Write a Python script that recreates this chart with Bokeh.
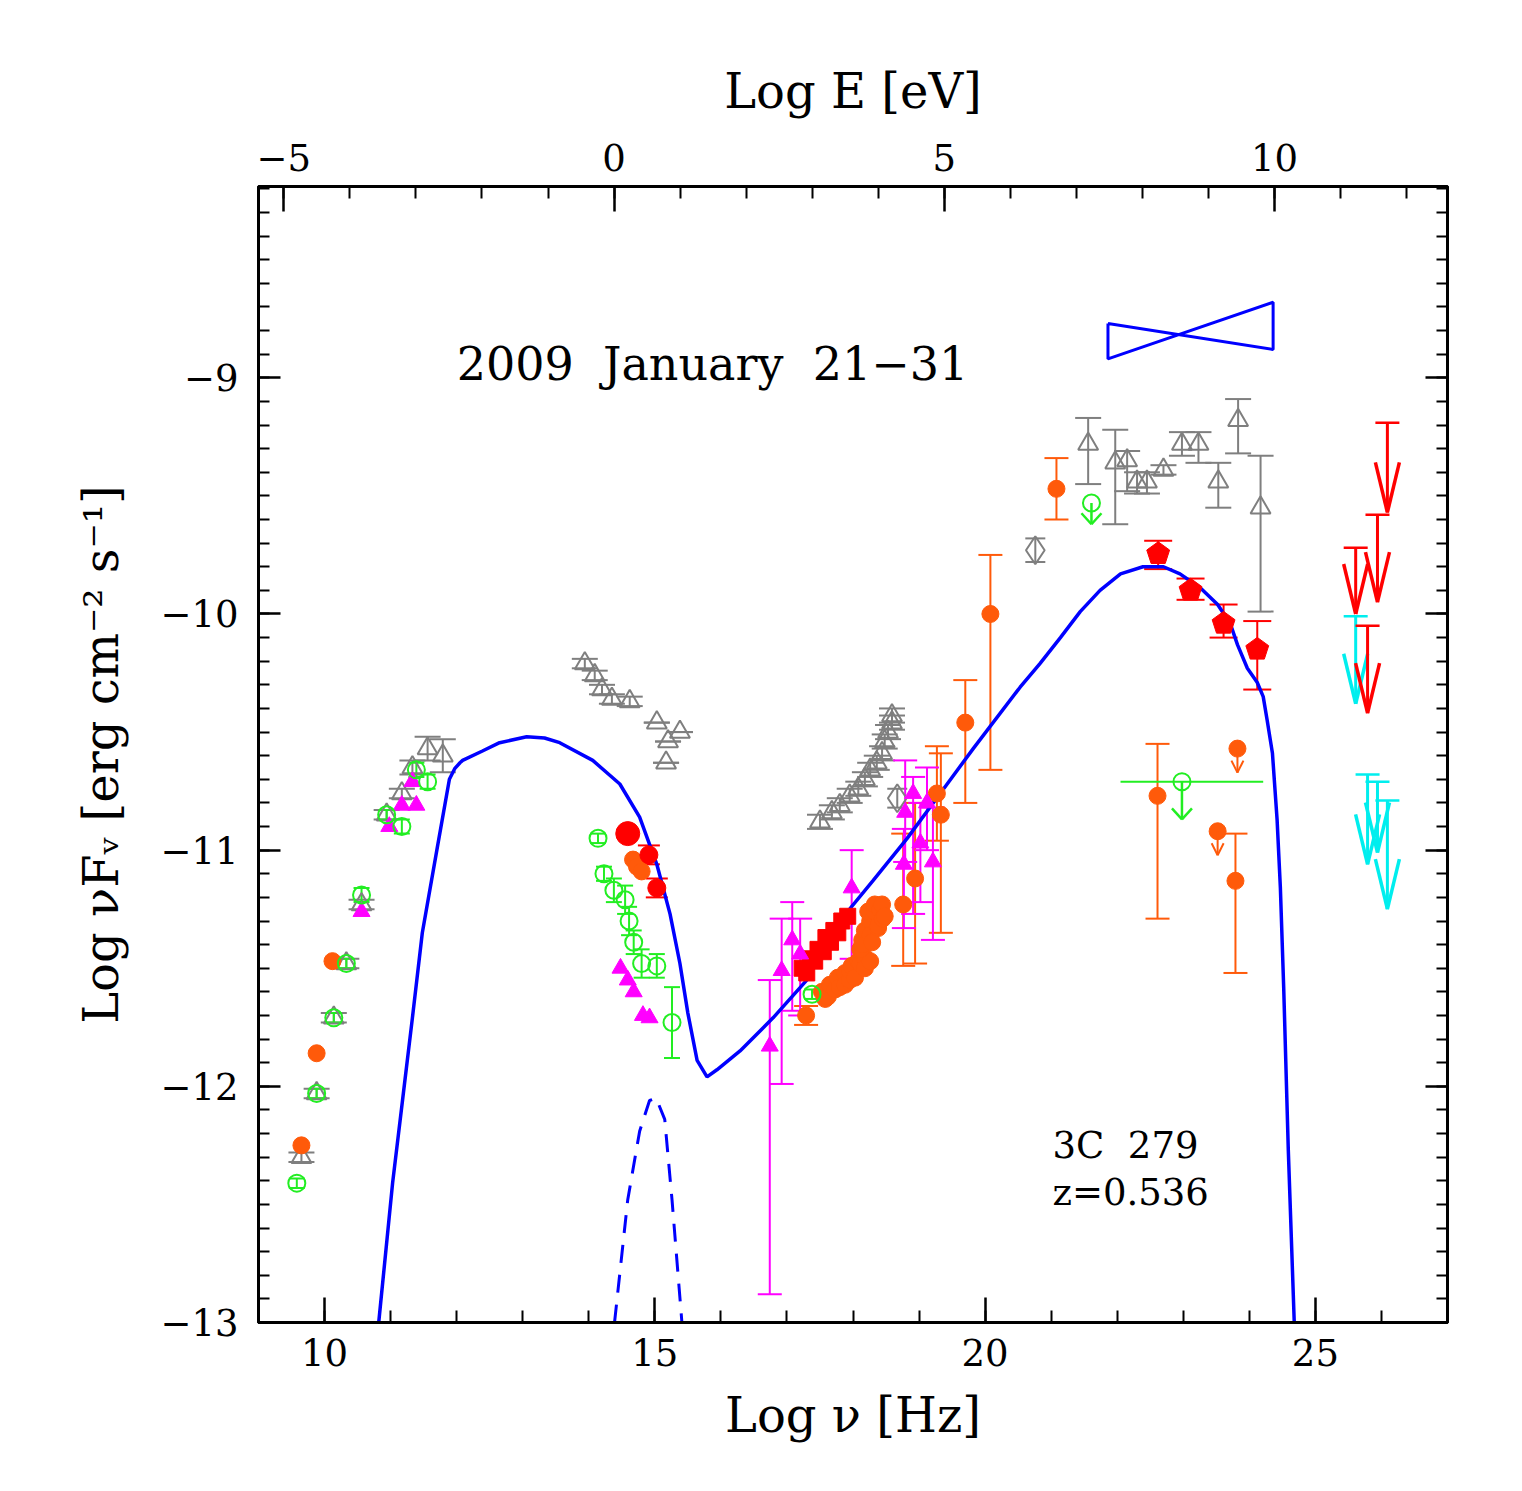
import numpy as np
from bokeh.plotting import figure
from bokeh.models import (Range1d, LinearAxis, FixedTicker, Whisker, TeeHead,
                          ColumnDataSource, Label)
from bokeh.embed import file_html
from bokeh.resources import INLINE

# ---------------- data (log nu [Hz], log nuFnu [erg cm^-2 s^-1]) ----------------
# archival, grey open triangles
arch_x = [9.65, 9.88, 10.14, 10.33, 10.56, 10.94, 11.17, 11.33, 11.56, 11.79,
          13.94, 14.09, 14.20, 14.35, 14.62, 15.03, 15.38, 15.20, 15.17,
          17.50, 17.68, 17.80, 17.95, 18.08, 18.18, 18.26, 18.36, 18.44, 18.48, 18.53, 18.59, 18.59,
          21.56, 21.97, 22.15, 22.30, 22.45, 22.70, 22.98, 23.23, 23.53, 23.83, 24.17]
arch_y = [-12.30, -12.03, -11.71, -11.48, -11.23, -10.85, -10.76, -10.65, -10.57, -10.60,
          -10.21, -10.26, -10.32, -10.36, -10.37, -10.46, -10.50, -10.54, -10.63,
          -10.88, -10.84, -10.81, -10.77, -10.74, -10.70, -10.66, -10.63, -10.59, -10.54, -10.50, -10.46, -10.43,
          -9.28, -9.36, -9.35, -9.44, -9.44, -9.39, -9.28, -9.28, -9.44, -9.18, -9.55]
arch_lo = [-12.32, -12.05, -11.73, -11.50, -11.25, -10.87, -10.78, -10.68, -10.62, -10.67,
           -10.23, -10.28, -10.34, -10.38, -10.39, -10.46, -10.50, -10.54, -10.63,
           -10.91, -10.87, -10.84, -10.80, -10.77, -10.73, -10.69, -10.66, -10.62, -10.57, -10.53, -10.49, -10.46,
           -9.45, -9.62, -9.48, -9.49, -9.49, -9.41, -9.33, -9.36, -9.55, -9.32, -9.99]
arch_hi = [-12.28, -12.01, -11.69, -11.46, -11.21, -10.83, -10.74, -10.62, -10.52, -10.53,
           -10.19, -10.24, -10.30, -10.34, -10.35, -10.46, -10.50, -10.54, -10.63,
           -10.85, -10.81, -10.78, -10.74, -10.71, -10.67, -10.63, -10.60, -10.56, -10.51, -10.47, -10.43, -10.40,
           -9.17, -9.22, -9.31, -9.40, -9.40, -9.37, -9.23, -9.23, -9.36, -9.09, -9.33]

# archival grey diamonds
diam_x = [18.67, 20.76]
diam_y = [-10.78, -9.73]
diam_e = [0.04, 0.05]

# green open circles
grn_x = [9.58, 9.88, 10.14, 10.33, 10.56, 10.94, 11.17, 11.39, 11.56,
         14.14, 14.23, 14.38, 14.55, 14.61, 14.68, 14.80, 15.03, 15.26, 17.38]
grn_y = [-12.41, -12.03, -11.71, -11.48, -11.19, -10.85, -10.90, -10.66, -10.71,
         -10.95, -11.10, -11.17, -11.21, -11.30, -11.39, -11.48, -11.49, -11.73, -11.61]
grn_err = [0.02, 0.02, 0.02, 0.02, 0.03, 0.02, 0.03, 0.03, 0.03,
           0.02, 0.03, 0.05, 0.06, 0.06, 0.05, 0.06, 0.05, 0.15, 0.02]

# orange filled circles
org_x = [9.65, 9.88, 10.12, 14.67, 14.73, 14.80,
         17.29, 17.53, 17.58, 17.62, 17.65, 17.73, 17.77, 17.80, 17.88, 17.88, 17.95, 17.95, 17.98,
         18.03, 18.08, 18.11, 18.17, 18.18, 18.26,
         18.11, 18.14, 18.14, 18.18, 18.26, 18.26, 18.23, 18.29, 18.33, 18.33, 18.38, 18.38,
         18.41, 18.44, 18.45, 18.48,
         18.76, 18.94, 19.27, 19.33, 19.70, 20.08, 21.08, 22.61, 23.79, 23.82, 23.52]
org_y = [-12.25, -11.86, -11.47, -11.04, -11.07, -11.09,
         -11.70, -11.60, -11.63, -11.62, -11.57, -11.59, -11.54, -11.58, -11.52, -11.57, -11.55, -11.51, -11.49,
         -11.54, -11.47, -11.48, -11.45, -11.50, -11.47,
         -11.42, -11.38, -11.40, -11.34, -11.30, -11.36, -11.26, -11.39, -11.26, -11.23, -11.33, -11.32,
         -11.25, -11.23, -11.29, -11.28,
         -11.23, -11.12, -10.76, -10.85, -10.46, -10.00, -9.47, -10.77, -11.13, -10.57, -10.92]
# orange error bars (x, low, high)
orgE_x = [17.29, 18.76, 18.94, 19.27, 19.33, 19.70, 20.08, 21.08, 22.61, 23.79]
orgE_lo = [-11.74, -11.49, -11.48, -10.96, -11.35, -10.80, -10.66, -9.60, -11.29, -11.52]
orgE_hi = [-11.66, -10.93, -10.80, -10.56, -10.59, -10.28, -9.75, -9.34, -10.55, -10.93]
# orange upper limits (x, value)
orgUL_x = [23.82, 23.52]
orgUL_y = [-10.57, -10.92]

# red filled circles (optical)
redc_x = [14.59, 14.91, 15.03]
redc_y = [-10.93, -11.02, -11.16]
redc_err = [0.0, 0.04, 0.04]

# red filled squares (X-ray)
reds_x = [17.23, 17.30, 17.35, 17.42, 17.47, 17.55, 17.59, 17.66, 17.71, 17.77, 17.83, 17.92]
reds_y = [-11.50, -11.52, -11.46, -11.47, -11.42, -11.43, -11.37, -11.39, -11.34, -11.35, -11.30, -11.28]

# magenta filled triangles
mag_x = [10.56, 10.98, 11.17, 11.39, 11.33,
         14.48, 14.59, 14.68, 14.82, 14.92,
         16.74, 16.92, 17.08, 17.20, 17.98, 18.77, 18.79, 18.91, 19.02, 19.12, 19.21]
mag_y = [-11.26, -10.90, -10.81, -10.81, -10.71,
         -11.50, -11.55, -11.60, -11.70, -11.71,
         -11.83, -11.51, -11.38, -11.44, -11.16, -11.06, -10.84, -10.76, -10.97, -10.80, -11.05]
magE_x = [16.74, 16.92, 17.08, 17.20, 17.98, 18.77, 18.79, 18.91, 19.02, 19.12, 19.21]
magE_lo = [-12.88, -11.99, -11.68, -11.70, -11.46, -11.33, -11.05, -11.27, -11.22, -11.00, -11.38]
magE_hi = [-11.55, -11.29, -11.22, -11.29, -11.00, -10.91, -10.62, -10.69, -10.80, -10.65, -10.82]

# Fermi/LAT red pentagons
lat_x = [22.62, 23.11, 23.61, 24.12]
lat_y = [-9.745, -9.90, -10.04, -10.15]
lat_lo = [-9.81, -9.94, -10.10, -10.32]
lat_hi = [-9.69, -9.85, -9.96, -10.03]

# green upper limits
gUL_x = [21.61, 22.98]
gUL_y = [-9.53, -10.71]
gUL_tip = [-9.62, -10.87]
gUL_xlo = [22.05]
gUL_xhi = [24.21]

# VHE upper limits
vhe_red_x = [26.09, 25.94, 25.61, 25.79]
vhe_red_top = [-9.19, -9.58, -9.72, -10.05]
vhe_red_tip = [-9.57, -9.95, -10.00, -10.42]
vhe_cyan_x = [25.61, 25.79, 25.94, 26.09]
vhe_cyan_top = [-10.01, -10.68, -10.71, -10.79]
vhe_cyan_tip = [-10.38, -11.06, -11.01, -11.25]

# bow tie (x at both ends, y top/bottom)
bow_x = [21.86, 24.36]
bow_ytop = [-8.77, -8.68]
bow_ybot = [-8.92, -8.88]

# model (solid) and disk (dashed)
mod_x = [10.82, 11.03, 11.18, 11.33, 11.48, 11.70, 11.89, 11.97, 12.05, 12.09, 12.39, 12.65, 13.06,
         13.33, 13.56, 14.06, 14.47, 14.77, 15.03, 15.23, 15.38, 15.50, 15.64, 15.79, 15.94,
         16.29, 16.79, 17.30, 17.80, 18.30, 18.82, 19.32, 19.82, 20.53, 20.83, 21.14, 21.44,
         21.74, 22.05, 22.39, 22.70, 22.95, 23.26, 23.52, 23.71, 23.82, 23.97, 24.12, 24.21,
         24.27, 24.35, 24.42, 24.47, 24.52, 24.59, 24.68]
mod_y = [-13.0, -12.41, -12.06, -11.71, -11.35, -11.00, -10.70, -10.655, -10.63, -10.62, -10.58, -10.545, -10.52,
         -10.525, -10.545, -10.62, -10.72, -10.86, -11.06, -11.27, -11.48, -11.69, -11.89, -11.96, -11.93,
         -11.85, -11.71, -11.55, -11.30, -11.13, -10.95, -10.76, -10.57, -10.31, -10.21, -10.10, -9.99,
         -9.90, -9.83, -9.80, -9.80, -9.83, -9.89, -9.96, -10.04, -10.13, -10.23, -10.29, -10.35,
         -10.45, -10.59, -10.87, -11.16, -11.58, -12.27, -13.0]
disk_x = [14.39, 14.59, 14.77, 14.92, 15.02, 15.15, 15.26, 15.41]
disk_y = [-13.0, -12.48, -12.19, -12.06, -12.05, -12.14, -12.48, -13.0]

x_ticks = [10, 15, 20, 25]
e_ticks = [-5, 0, 5, 10]
y_ticks = [-13, -12, -11, -10, -9]
LOG_H_EV = -14.383   # log10(h [eV s])

# ---------------- figure ----------------
X0, X1, Y0, Y1 = 9.0, 27.0, -13.0, -8.19
FW, FH = 1189, 1136
PXX = FW / (X1 - X0)
PXY = FH / (Y1 - Y0)
FONT = "DejaVu Serif"

p = figure(frame_width=FW, frame_height=FH, x_range=Range1d(X0, X1), y_range=Range1d(Y0, Y1),
           output_backend="svg", toolbar_location=None,
           min_border_left=258, min_border_top=186, min_border_right=60, min_border_bottom=150,
           x_axis_location=None, y_axis_location=None)
p.grid.visible = False
p.outline_line_color = "black"
p.outline_line_width = 3
p.background_fill_color = "white"
p.border_fill_color = "white"
p.extra_x_ranges = {"E": Range1d(X0 + LOG_H_EV, X1 + LOG_H_EV)}


def style_axis(ax, label_size="37px"):
    ax.axis_line_color = "black"
    ax.axis_line_width = 3
    ax.major_tick_line_width = 2.5
    ax.minor_tick_line_width = 2
    ax.major_tick_out = 0
    ax.minor_tick_out = 0
    ax.major_tick_in = 25
    ax.minor_tick_in = 12
    ax.major_label_text_font = FONT
    ax.major_label_text_font_size = label_size
    ax.major_label_text_color = "black"
    ax.axis_label_text_font = FONT
    ax.axis_label_text_font_style = "normal"
    ax.axis_label_text_font_size = "48px"
    ax.axis_label_text_color = "black"


xb = LinearAxis(ticker=FixedTicker(ticks=x_ticks, minor_ticks=list(range(9, 28))),
                axis_label="Log ν [Hz]")
style_axis(xb)
xb.major_label_standoff = 16
xb.axis_label_standoff = 18
p.add_layout(xb, "below")

xt = LinearAxis(x_range_name="E", ticker=FixedTicker(ticks=e_ticks, minor_ticks=list(range(-5, 13))),
                axis_label="Log E [eV]")
style_axis(xt)
xt.major_label_overrides = {-5: "−5"}
xt.major_label_standoff = 16
xt.axis_label_standoff = 22
p.add_layout(xt, "above")

minor_y = [round(v, 1) for v in np.arange(-13.0, -8.15, 0.1)]
yl = LinearAxis(ticker=FixedTicker(ticks=y_ticks, minor_ticks=minor_y),
                axis_label="Log νFᵥ [erg cm⁻² s⁻¹]")
style_axis(yl)
yl.major_tick_in = 22
yl.minor_tick_in = 11
yl.major_label_overrides = {t: "−%d" % abs(t) for t in y_ticks}
yl.major_label_standoff = 20
yl.axis_label_standoff = 28
p.add_layout(yl, "left")

yr = LinearAxis(ticker=FixedTicker(ticks=y_ticks, minor_ticks=minor_y))
style_axis(yr)
yr.major_tick_in = 22
yr.minor_tick_in = 11
yr.major_label_text_font_size = "0px"
yr.major_label_text_alpha = 0
p.add_layout(yr, "right")

GREY = "#7f7f7f"
GREEN = "#22ee22"
ORANGE = "#ff5a0a"
RED = "#ff0000"
MAG = "#ff00ff"
CYAN = "#00eeee"
BLUE = "#0000ff"


def errbars(xs, lo, hi, color, cap=26, lw=2):
    src = ColumnDataSource(dict(base=xs, lower=lo, upper=hi))
    w = Whisker(source=src, base="base", lower="lower", upper="upper", dimension="height",
                line_color=color, line_width=lw,
                lower_head=TeeHead(size=cap, line_color=color, line_width=lw),
                upper_head=TeeHead(size=cap, line_color=color, line_width=lw))
    p.add_layout(w)


# models
p.line(mod_x, mod_y, line_color=BLUE, line_width=3.5)
p.line(disk_x, disk_y, line_color=BLUE, line_width=3, line_dash="18 12")

# bow tie
p.line([bow_x[0], bow_x[1], bow_x[1], bow_x[0], bow_x[0]],
       [bow_ytop[0], bow_ybot[1], bow_ytop[1], bow_ybot[0], bow_ytop[0]],
       line_color=BLUE, line_width=3)

# archival grey
errbars(arch_x, arch_lo, arch_hi, GREY, cap=26)
p.scatter(arch_x, arch_y, marker="triangle", size=20, fill_color=None, line_color=GREY, line_width=2)
errbars(diam_x, [y - e for y, e in zip(diam_y, diam_e)], [y + e for y, e in zip(diam_y, diam_e)], GREY, cap=20)
p.scatter(diam_x, diam_y, marker="diamond", size=28, fill_color=None, line_color=GREY, line_width=2)

# orange
errbars(orgE_x, orgE_lo, orgE_hi, ORANGE, cap=24)
p.scatter(org_x, org_y, marker="circle", size=17, fill_color=ORANGE, line_color=ORANGE)
for x, y in zip(orgUL_x, orgUL_y):
    tip = y - 24 / PXY
    p.segment([x], [y], [x], [tip], line_color=ORANGE, line_width=2)
    p.segment([x - 6 / PXX, x + 6 / PXX], [tip + 12 / PXY] * 2, [x, x], [tip, tip],
              line_color=ORANGE, line_width=2)

# red X-ray squares
p.scatter(reds_x, reds_y, marker="square", size=16, fill_color=RED, line_color=RED)

# magenta
errbars(magE_x, magE_lo, magE_hi, MAG, cap=24)
p.scatter(mag_x, mag_y, marker="triangle", size=17, fill_color=MAG, line_color=MAG)

# green circles
errbars(grn_x, [y - e for y, e in zip(grn_y, grn_err)], [y + e for y, e in zip(grn_y, grn_err)],
        GREEN, cap=16)
p.scatter(grn_x, grn_y, marker="circle", size=17, fill_color=None, line_color=GREEN, line_width=2)

# red optical circles
errbars(redc_x[1:], [y - e for y, e in zip(redc_y[1:], redc_err[1:])],
        [y + e for y, e in zip(redc_y[1:], redc_err[1:])], RED, cap=22)
p.scatter(redc_x[:1], redc_y[:1], marker="circle", size=24, fill_color=RED, line_color=RED)
p.scatter(redc_x[1:], redc_y[1:], marker="circle", size=18, fill_color=RED, line_color=RED)

# LAT pentagons
errbars(lat_x, lat_lo, lat_hi, RED, cap=28)
ang = np.pi / 2 + np.arange(5) * 2 * np.pi / 5
R = 12
pent_xs = [list(x + R * np.cos(ang) / PXX) for x in lat_x]
pent_ys = [list(y + R * np.sin(ang) / PXY) for y in lat_y]
p.patches(pent_xs, pent_ys, fill_color=RED, line_color=RED)

# green upper limits
p.segment([gUL_xlo[0]], [gUL_y[1]], [gUL_xhi[0]], [gUL_y[1]], line_color=GREEN, line_width=2)
p.scatter(gUL_x, gUL_y, marker="circle", size=17, fill_color=None, line_color=GREEN, line_width=2)
for x, y, t in zip(gUL_x, gUL_y, gUL_tip):
    p.segment([x], [y], [x], [t], line_color=GREEN, line_width=2.5)
    p.segment([x - 10 / PXX, x + 10 / PXX], [t + 11 / PXY] * 2, [x, x], [t, t],
              line_color=GREEN, line_width=2.5)


# VHE upper limits
def vhe(xs, tops, tips, color):
    for x, top, tip in zip(xs, tops, tips):
        p.segment([x], [top], [x], [tip], line_color=color, line_width=3)
        p.segment([x - 12 / PXX], [top], [x + 12 / PXX], [top], line_color=color, line_width=2.5)
        p.segment([x - 12 / PXX, x + 12 / PXX], [tip + 50 / PXY] * 2, [x, x], [tip, tip],
                  line_color=color, line_width=3.5)


vhe(vhe_cyan_x, vhe_cyan_top, vhe_cyan_tip, CYAN)
vhe(vhe_red_x, vhe_red_top, vhe_red_tip, RED)

# texts
NB = "\u00a0"
p.add_layout(Label(x=12.0, y=-8.94, text="2009" + NB + " January" + NB + " 21−31", text_font=FONT,
                   text_font_size="46px", text_baseline="middle", text_align="left", text_color="black"))
p.add_layout(Label(x=21.02, y=-12.25, text="3C" + NB + " 279", text_font=FONT, text_font_size="37px",
                   text_baseline="middle", text_align="left", text_color="black"))
p.add_layout(Label(x=21.02, y=-12.45, text="z=0.536", text_font=FONT, text_font_size="37px",
                   text_baseline="middle", text_align="left", text_color="black"))

open("out.html", "w").write(file_html(p, INLINE))
